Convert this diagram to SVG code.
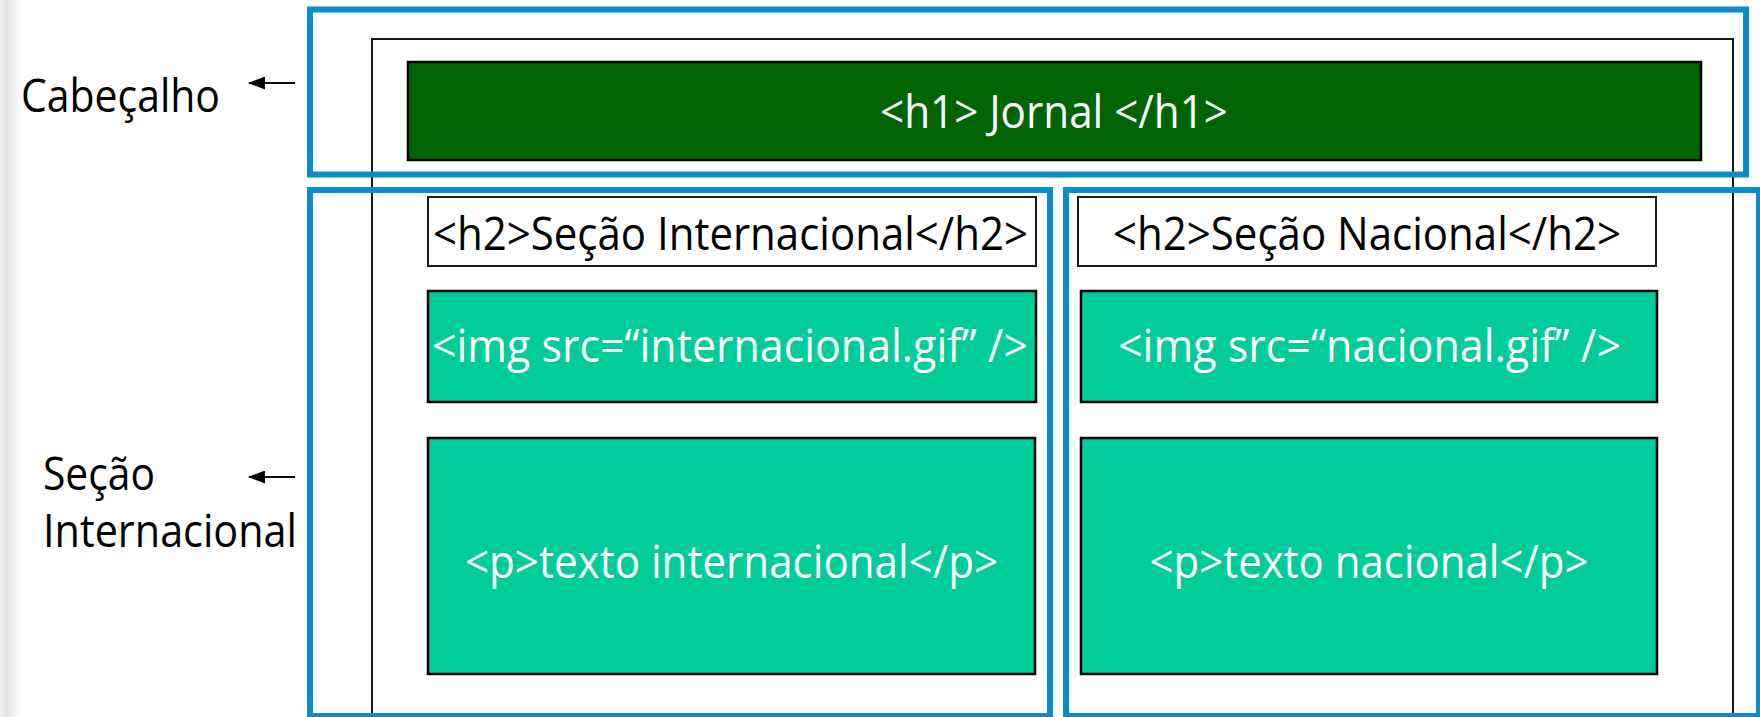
<svg xmlns="http://www.w3.org/2000/svg" width="1760" height="717" viewBox="0 0 1760 717">
  <style>
    .t { font-family: "Open Sans", "Noto Sans", "Liberation Sans", sans-serif; font-size: 46px; }
    .w { fill: #ffffff; }
    .k { fill: #000000; }
    .blue { fill: none; stroke: #0B8DC9; stroke-width: 6; }
    .outer { fill: none; stroke: #1a1a1a; stroke-width: 2; }
    .h1box { fill: #006400; stroke: #000000; stroke-width: 2.5; }
    .h2box { fill: #ffffff; stroke: #1a1a1a; stroke-width: 2; }
    .tbox { fill: #00CC99; stroke: #000000; stroke-width: 2.5; }
    .arrow { stroke: #000000; stroke-width: 2; fill: none; marker-end: url(#ah); }
  </style>
  <defs>
    <marker id="ah" markerWidth="17" markerHeight="13" refX="16" refY="6.5" orient="auto" markerUnits="userSpaceOnUse" viewBox="0 0 17 13">
      <path d="M0,0 L17,6.5 L0,13 Z" fill="#000000"/>
    </marker>
    <linearGradient id="edge" x1="0" y1="0" x2="1" y2="0">
      <stop offset="0" stop-color="#f2f2f2"/>
      <stop offset="0.3" stop-color="#e3e3e3"/>
      <stop offset="1" stop-color="#ffffff"/>
    </linearGradient>
  </defs>
  <rect x="0" y="0" width="1760" height="717" fill="#ffffff"/>
  <rect x="0" y="0" width="22" height="717" fill="url(#edge)"/>

  <g id="page">
    <rect class="outer" x="372" y="39" width="1361" height="700"/>
  </g>

  <g id="cabecalho-region">
    <rect class="blue" x="310" y="9.5" width="1436" height="165"/>
  </g>
  <g id="secao-internacional-region">
    <rect class="blue" x="310" y="190" width="740" height="526"/>
  </g>
  <g id="secao-nacional-region">
    <rect class="blue" x="1066" y="190" width="693" height="526"/>
  </g>

  <g id="h1">
    <rect class="h1box" x="408" y="62" width="1293" height="98"/>
    <text class="t w" x="1054" y="128" text-anchor="middle" textLength="348" lengthAdjust="spacingAndGlyphs">&lt;h1&gt; Jornal &lt;/h1&gt;</text>
  </g>

  <g id="h2-internacional">
    <rect class="h2box" x="428" y="197" width="608" height="69"/>
    <text class="t k" x="730.5" y="250" text-anchor="middle" textLength="595" lengthAdjust="spacingAndGlyphs">&lt;h2&gt;Seção Internacional&lt;/h2&gt;</text>
  </g>
  <g id="h2-nacional">
    <rect class="h2box" x="1078" y="197" width="578" height="69"/>
    <text class="t k" x="1367" y="250" text-anchor="middle" textLength="508" lengthAdjust="spacingAndGlyphs">&lt;h2&gt;Seção Nacional&lt;/h2&gt;</text>
  </g>

  <g id="img-internacional">
    <rect class="tbox" x="428" y="291" width="608" height="111"/>
    <text class="t w" x="730" y="362" text-anchor="middle" textLength="596" lengthAdjust="spacingAndGlyphs">&lt;img src=“internacional.gif” /&gt;</text>
  </g>
  <g id="img-nacional">
    <rect class="tbox" x="1081" y="291" width="576" height="111"/>
    <text class="t w" x="1369.5" y="362" text-anchor="middle" textLength="503" lengthAdjust="spacingAndGlyphs">&lt;img src=“nacional.gif” /&gt;</text>
  </g>

  <g id="p-internacional">
    <rect class="tbox" x="428" y="438" width="607" height="236"/>
    <text class="t w" x="731.5" y="578" text-anchor="middle" textLength="533" lengthAdjust="spacingAndGlyphs">&lt;p&gt;texto internacional&lt;/p&gt;</text>
  </g>
  <g id="p-nacional">
    <rect class="tbox" x="1081" y="438" width="576" height="236"/>
    <text class="t w" x="1369" y="578" text-anchor="middle" textLength="439" lengthAdjust="spacingAndGlyphs">&lt;p&gt;texto nacional&lt;/p&gt;</text>
  </g>

  <g id="label-cabecalho">
    <text class="t k" x="21" y="112" textLength="199" lengthAdjust="spacingAndGlyphs">Cabeçalho</text>
  </g>
  <g id="label-secao-internacional">
    <text class="t k" x="43" y="490" textLength="112" lengthAdjust="spacingAndGlyphs">Seção</text>
    <text class="t k" x="43" y="547" textLength="254" lengthAdjust="spacingAndGlyphs">Internacional</text>
  </g>

  <g id="connectors">
    <line class="arrow" x1="295" y1="83" x2="249" y2="83"/>
    <line class="arrow" x1="295" y1="477" x2="249" y2="477"/>
  </g>
</svg>
